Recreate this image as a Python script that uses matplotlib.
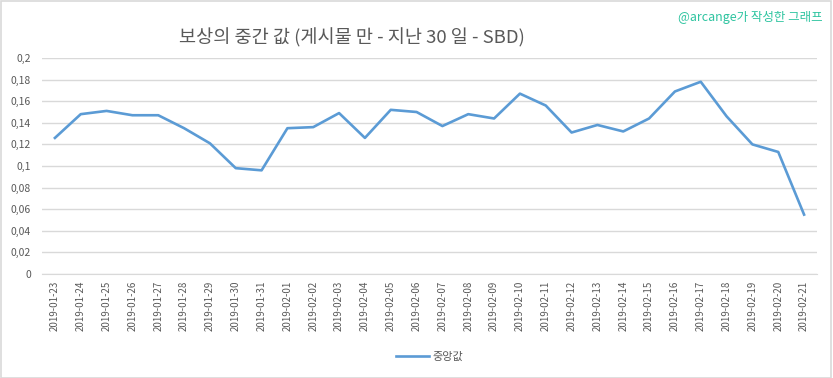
import matplotlib
matplotlib.use("Agg")
import matplotlib.pyplot as plt
from matplotlib.ticker import FuncFormatter
from matplotlib.patches import Rectangle

plt.rcParams['font.family'] = ['Noto Sans CJK KR', 'DejaVu Sans']

dates = ["2019-01-23","2019-01-24","2019-01-25","2019-01-26","2019-01-27","2019-01-28",
         "2019-01-29","2019-01-30","2019-01-31","2019-02-01","2019-02-02","2019-02-03",
         "2019-02-04","2019-02-05","2019-02-06","2019-02-07","2019-02-08","2019-02-09",
         "2019-02-10","2019-02-11","2019-02-12","2019-02-13","2019-02-14","2019-02-15",
         "2019-02-16","2019-02-17","2019-02-18","2019-02-19","2019-02-20","2019-02-21"]
median = [0.126, 0.148, 0.151, 0.147, 0.147, 0.135, 0.121, 0.098, 0.096, 0.135,
          0.136, 0.149, 0.126, 0.152, 0.150, 0.137, 0.148, 0.144, 0.167, 0.156,
          0.131, 0.138, 0.132, 0.144, 0.169, 0.178, 0.146, 0.120, 0.113, 0.055]
yticks = [0, 0.02, 0.04, 0.06, 0.08, 0.1, 0.12, 0.14, 0.16, 0.18, 0.2]

fig = plt.figure(figsize=(8.33, 3.78), dpi=100)
fig.patches.append(Rectangle((0.001, 0.001), 0.997, 0.997, transform=fig.transFigure,
                             fill=False, edgecolor='#d9d9d9', linewidth=1.2))
ax = fig.add_axes([42/833, 1 - 274/378, (817-42)/833, (274-58)/378])
x = list(range(len(dates)))
ax.plot(x, median, color='#5b9bd5', linewidth=1.9, label='중앙값')
ax.set_xlim(-0.5, len(dates) - 0.5)
ax.set_ylim(0, 0.2)
ax.set_yticks(yticks)
ax.yaxis.set_major_formatter(FuncFormatter(lambda v, p: ('%g' % round(v, 2)).replace('.', ',')))
ax.set_xticks(x)
ax.set_xticklabels(dates, rotation=90, fontsize=7, color='#595959')
ax.tick_params(axis='y', labelsize=7.5, labelcolor='#595959', length=0, pad=8)
ax.tick_params(axis='x', length=0, pad=5)
ax.grid(axis='y', color='#d9d9d9', linewidth=1)
ax.set_axisbelow(True)
for s in ['top', 'right', 'left']:
    ax.spines[s].set_visible(False)
ax.spines['bottom'].set_color('#d9d9d9')

fig.text(352/833, 1 - 38/378, '보상의 중간 값 (게시물 만 - 지난 30 일 - SBD)', ha='center', va='center',
         fontsize=13.4, color='#595959')
fig.text(823/833, 1 - 17/378, '@arcange가 작성한 그래프', ha='right', va='center',
         fontsize=9, color='#2ec4a0')
ax.legend(loc='center', bbox_to_anchor=(0.5, -0.384), frameon=False, fontsize=8,
          labelcolor='#595959', handlelength=3, borderaxespad=0, handletextpad=0.3)
fig.savefig('out.png', dpi=100)
